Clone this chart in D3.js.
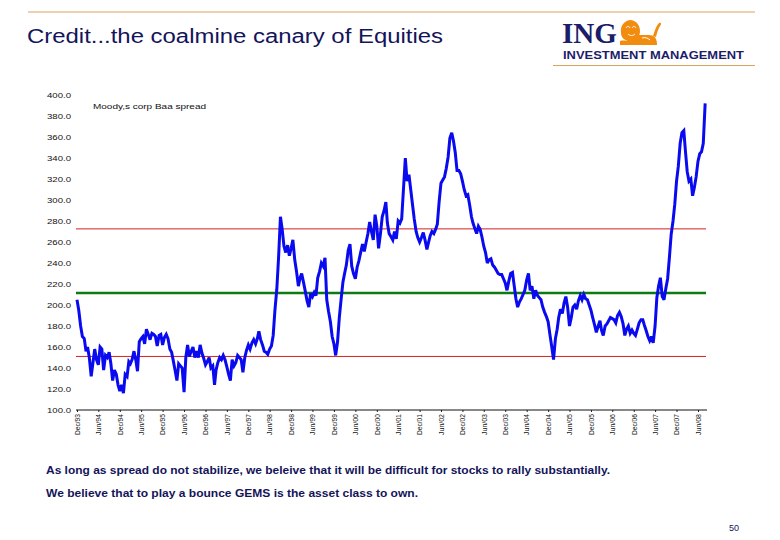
<!DOCTYPE html>
<html><head><meta charset="utf-8">
<script src="https://cdn.jsdelivr.net/npm/d3@7"></script>
<style>body{margin:0;background:#fff}svg{display:block}</style>
</head><body><svg id="c" width="780" height="540"></svg>
<script>
// ---- data (semi-monthly readings, first point = 1 Dec 1993) ----
const startYear = 1993, startMonth = 11;
const spread = [
 205,195,180,170,168,156,160,150,132,145,158,148,
 143,160,158,138,152,150,155,144,128,138,134,124,
 118,124,116,134,132,146,144,148,156,148,137,165,
 168,170,163,177,172,167,173,172,170,161,171,172,
 162,169,172,168,158,155,147,138,128,144,142,140,
 117,150,162,151,156,160,150,156,150,162,154,149,
 143,146,150,140,142,124,138,145,150,148,152,148,
 141,134,128,148,142,145,152,150,148,136,150,157,
 162,158,164,167,163,168,175,167,162,156,155,153,
 158,161,171,195,215,245,284,272,256,250,257,247,
 254,262,243,232,218,226,230,222,213,204,198,211,
 208,212,209,226,232,240,237,245,205,194,184,170,
 163,152,165,188,206,222,230,238,252,258,237,230,
 225,236,242,250,258,251,260,268,279,270,262,286,
 275,254,268,284,290,298,278,268,265,262,270,263,
 280,278,282,310,340,318,324,310,296,282,270,264,
 260,264,269,262,253,260,266,270,268,272,277,298,
 316,319,322,330,341,359,364,356,345,328,328,325,
 318,310,304,305,295,284,278,273,268,275,272,265,
 256,250,240,243,244,238,236,233,230,229,229,225,
 221,214,223,230,231,218,206,198,203,206,210,214,
 224,230,214,218,206,214,209,207,205,198,193,189,
 184,172,160,148,168,177,188,196,192,202,208,198,
 180,188,198,200,196,204,209,205,210,206,205,200,
 195,188,181,174,180,185,176,171,180,182,185,188,
 187,186,183,190,193,189,182,171,177,180,173,176,
 173,171,177,183,186,186,181,176,170,166,170,164,
 180,207,218,226,208,205,216,225,245,267,280,296,
 318,332,354,364,366,345,327,318,320,304,312,322,
 337,344,346,354,392
];
const tickLabels = ["Dec/93","Jun/94","Dec/94","Jun/95","Dec/95","Jun/96","Dec/96","Jun/97",
 "Dec/97","Jun/98","Dec/98","Jun/99","Dec/99","Jun/00","Dec/00","Jun/01","Dec/01","Jun/02",
 "Dec/02","Jun/03","Dec/03","Jun/04","Dec/04","Jun/05","Dec/05","Jun/06","Dec/06","Jun/07",
 "Dec/07","Jun/08"];
const yTicks = [100,120,140,160,180,200,220,240,260,280,300,320,340,360,380,400];
const meanLevel = 211.5;
const upperBand = 272.5;
const lowerBand = 151;
const seriesLabel = "Moody,s corp Baa spread";
const title = "Credit...the coalmine canary of Equities";
const note1 = "As long as spread do not stabilize, we beleive that it will be difficult for stocks to rally substantially.";
const note2 = "We believe that to play a bounce GEMS is the asset class to own.";
const pageNo = "50";

// ---- drawing ----
const svg = d3.select("#c");
const navy = "#14145a";
const FONT = "'Liberation Sans', Arial, sans-serif";

const dateAt = i => new Date(startYear, startMonth + Math.floor(i / 2), i % 2 ? 16 : 1);
const tickDates = tickLabels.map((_, k) => new Date(startYear, startMonth + 6 * k, 1));

const x = d3.scaleTime().domain([tickDates[0], tickDates[tickDates.length - 1]]).range([77, 698]);
const y = d3.scaleLinear().domain([100, 400]).range([410, 95]);
const xLeft = 76, xRight = 707;

// header rules
svg.append("line").attr("x1", 28).attr("x2", 755).attr("y1", 12).attr("y2", 12)
  .attr("stroke", "#d9a45e").attr("stroke-width", 1.2);
svg.append("line").attr("x1", 553).attr("x2", 755).attr("y1", 65.5).attr("y2", 65.5)
  .attr("stroke", "#d9a45e").attr("stroke-width", 1.2);

// title
svg.append("text").attr("x", 27).attr("y", 43).text(title)
  .attr("font-family", FONT).attr("font-size", 20).attr("fill", navy)
  .attr("textLength", 416).attr("lengthAdjust", "spacingAndGlyphs");

// ING logo
svg.append("text").attr("x", 562).attr("y", 43).text("ING")
  .attr("font-family", "'Liberation Serif', 'Times New Roman', serif").attr("font-weight", "bold")
  .attr("font-size", 29).attr("fill", "#1b1d6b").attr("textLength", 55).attr("lengthAdjust", "spacingAndGlyphs");
svg.append("text").attr("x", 563).attr("y", 58.5).text("INVESTMENT MANAGEMENT")
  .attr("font-family", FONT).attr("font-weight", "bold").attr("font-size", 10)
  .attr("fill", "#1b1d6b").attr("textLength", 181).attr("lengthAdjust", "spacingAndGlyphs");
// lion (stylized, lying, facing left)
const lion = svg.append("g").attr("transform", "translate(620,20)").attr("fill", "#f28c0f");
// body
lion.append("path").attr("d", "M6,25 C6,19 10,15 16,15 L29,15 C35,15 37,19 37,25 Z");
// mane + head
lion.append("path").attr("d", "M1,13 C0,6 4,1 10,0 C16,0 20,5 20,11 C20,17 16,21 11,21 C5,21 1,18 1,13 Z");
// front paws
lion.append("path").attr("d", "M0,25 L0,21 C3,20 8,21 11,22 L11,25 Z");
// tail
lion.append("path").attr("d", "M33,16 C35,10 36,6 39,3 C41,2 42,4 40,6 C38,9 37,13 36,17 Z");
// facial details
lion.append("path").attr("d", "M6,8 C7,6 9,6 10,8 M12,8 C13,6 15,6 16,8 M8,14 C10,16 13,16 15,14 M22,18 C25,17 28,18 30,20")
  .attr("stroke", "#ffffff").attr("stroke-width", 1).attr("fill", "none");

// y axis labels
const yAxis = svg.append("g").attr("transform", "translate(72,0)")
  .call(d3.axisLeft(y).tickValues(yTicks).tickSize(0).tickPadding(1).tickFormat(d3.format(".1f")));
yAxis.select(".domain").remove();
yAxis.selectAll("text").attr("font-family", FONT).attr("font-size", 7).attr("fill", "#111")
  .attr("textLength", 24).attr("lengthAdjust", "spacingAndGlyphs");

// x axis
const xAxis = svg.append("g").attr("transform", "translate(0,410)")
  .call(d3.axisBottom(x).tickValues(tickDates).tickSize(2).tickFormat((d, i) => tickLabels[i]));
xAxis.select(".domain").remove();
xAxis.selectAll(".tick line").attr("stroke", "#222");
xAxis.selectAll("text").attr("transform", "rotate(-90)").attr("text-anchor", "end")
  .attr("x", -4).attr("y", 0).attr("dy", "0.35em")
  .attr("font-family", FONT).attr("font-size", 6.5).attr("fill", "#111")
  .attr("textLength", 21).attr("lengthAdjust", "spacingAndGlyphs");
svg.append("line").attr("x1", xLeft).attr("x2", xRight).attr("y1", y(100)).attr("y2", y(100))
  .attr("stroke", "#111").attr("stroke-width", 1);

// reference levels
[[upperBand, "#d42020", 1], [lowerBand, "#d42020", 1], [meanLevel, "#0f7a12", 2.5]].forEach(([v, c, w]) => {
  svg.append("line").attr("x1", xLeft).attr("x2", xRight - 1).attr("y1", y(v)).attr("y2", y(v))
    .attr("stroke", c).attr("stroke-width", w);
});

// series
const line = d3.line().x((d, i) => x(dateAt(i))).y(d => y(d));
svg.append("path").datum(spread).attr("d", line).attr("fill", "none")
  .attr("stroke", "#0a0af0").attr("stroke-width", 3)
  .attr("stroke-linejoin", "miter").attr("stroke-miterlimit", 3);

// series label
svg.append("text").attr("x", 93).attr("y", 109).text(seriesLabel)
  .attr("font-family", FONT).attr("font-size", 7.5).attr("fill", "#111")
  .attr("textLength", 113).attr("lengthAdjust", "spacingAndGlyphs");

// notes
svg.append("text").attr("x", 46).attr("y", 474).text(note1)
  .attr("font-family", FONT).attr("font-weight", "bold").attr("font-size", 10).attr("fill", navy)
  .attr("textLength", 564).attr("lengthAdjust", "spacingAndGlyphs");
svg.append("text").attr("x", 46).attr("y", 497).text(note2)
  .attr("font-family", FONT).attr("font-weight", "bold").attr("font-size", 10).attr("fill", navy)
  .attr("textLength", 372).attr("lengthAdjust", "spacingAndGlyphs");
svg.append("text").attr("x", 729).attr("y", 531).text(pageNo)
  .attr("font-family", FONT).attr("font-size", 9).attr("fill", navy);
</script></body></html>
